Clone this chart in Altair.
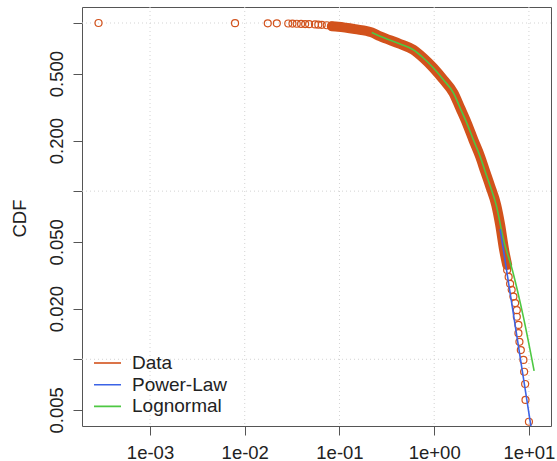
import json
import altair as alt
import pandas as pd

# ---- data ----
# empirical CCDF circles (sparse parts: head and tail)
data_x = [0.000286, 0.0079, 0.0175, 0.0218, 0.0288, 0.0319, 0.0354, 0.0393, 0.0434, 0.0478,
          0.0552, 0.0598, 0.0650, 0.0734, 0.0829, 0.0936,
          5.89, 6.11, 6.33, 6.57, 6.86, 7.15, 7.45, 7.45, 7.75, 7.75, 7.94, 8.21, 8.75, 8.90,
          9.12, 9.20, 10.0]
data_y = [1.0, 0.998, 0.996, 0.995, 0.993, 0.992, 0.990, 0.988, 0.986, 0.984,
          0.981, 0.978, 0.975, 0.970, 0.965, 0.960,
          0.0340, 0.0309, 0.0281, 0.0259, 0.0236, 0.0216, 0.0196, 0.0179, 0.0160, 0.0143, 0.0127,
          0.01135, 0.00991, 0.00843, 0.00713, 0.00573, 0.00425]

# dense part of the empirical CCDF (hundreds of overlapping circles -> solid band)
band_x = [0.0829, 0.0966, 0.146, 0.219, 0.268, 0.437, 0.602, 0.769, 0.982, 1.25, 1.60, 1.877,
          2.21, 2.59, 3.05, 3.45, 3.89, 4.51, 4.97, 5.47, 5.89]
band_y = [0.956, 0.950, 0.919, 0.879, 0.834, 0.750, 0.693, 0.619, 0.540, 0.460, 0.383, 0.313,
          0.254, 0.202, 0.161, 0.131, 0.1075, 0.0829, 0.0630, 0.0447, 0.0364]

# power-law fit
pl_x = [4.97, 10.5]
pl_y = [0.0594, 0.0040]

# lognormal fit
ln_x = [0.219, 0.268, 0.437, 0.602, 0.769, 0.982, 1.25, 1.60, 1.877, 2.21, 2.59, 3.05, 3.45,
        3.89, 4.51, 5.34, 6.81, 8.69, 11.35]
ln_y = [0.879, 0.834, 0.750, 0.693, 0.619, 0.540, 0.460, 0.383, 0.313, 0.254, 0.202, 0.161,
        0.131, 0.1075, 0.0829, 0.0527, 0.0326, 0.0181, 0.00852]

grid_x = [1e-3, 1e-2, 1e-1, 1, 10]
grid_y = [1, 0.1, 0.01]

x_ticks = [0.001, 0.01, 0.1, 1, 10]
x_tick_labels = ["1e-03", "1e-02", "1e-01", "1e+00", "1e+01"]
y_ticks = [0.005, 0.01, 0.02, 0.05, 0.1, 0.2, 0.5, 1]
y_tick_labels = ["0.005", "", "0.020", "0.050", "", "0.200", "0.500", ""]

series = ["Data", "Power-Law", "Lognormal"]
colors = ["#D2521C", "#3B63E6", "#4EC843"]

x_domain = [1.914e-4, 17.1]
y_domain = [0.00401, 1.245]

FONT = "Liberation Sans"
FS = 18.5

# ---- tables ----
pts = pd.DataFrame({"x": data_x, "y": data_y, "series": "Data"})
band = pd.DataFrame({"x": band_x, "y": band_y, "series": "Data"})
pl = pd.DataFrame({"x": pl_x, "y": pl_y, "series": "Power-Law"})
ln = pd.DataFrame({"x": ln_x, "y": ln_y, "series": "Lognormal"})
gx = pd.DataFrame({"x": grid_x})
gy = pd.DataFrame({"y": grid_y})

x_axis = alt.Axis(
    values=x_ticks,
    labelExpr=f"{json.dumps(x_tick_labels)}[indexof({json.dumps(x_ticks)}, datum.value)]",
    title=None, grid=False, domain=False, labelFlush=False, labelOverlap=False,
    labelPadding=8, tickSize=9,
)
y_axis = alt.Axis(
    values=y_ticks,
    labelExpr=f"{json.dumps(y_tick_labels)}[indexof({json.dumps(y_ticks)}, datum.value)]",
    title="CDF", grid=False, domain=False, labelFlush=False, labelOverlap=False,
    labelAngle=270, labelAlign="center", labelBaseline="bottom", labelPadding=7, tickSize=9,
    titleAngle=270, titleAlign="center", titleBaseline="middle", titleX=-63, titleY=211,
    titleFontWeight="normal", titleFontSize=FS, titleFont=FONT, titleColor="#222222",
)
xs = alt.Scale(type="log", domain=x_domain, nice=False)
ys = alt.Scale(type="log", domain=y_domain, nice=False)

X = alt.X("x:Q", scale=xs, axis=x_axis)
Y = alt.Y("y:Q", scale=ys, axis=y_axis)

color = alt.Color(
    "series:N",
    scale=alt.Scale(domain=series, range=colors),
    legend=alt.Legend(
        orient="none", legendX=11, legendY=346, title=None,
        symbolType="stroke", symbolSize=729, symbolStrokeWidth=1.6,
        labelFontSize=FS + 0.5, labelFont=FONT, labelColor="#222222",
        clipHeight=20, rowPadding=1.7, padding=0, labelOffset=10,
    ),
)

grid_v = alt.Chart(gx).mark_rule(color="#d3d3d3", strokeDash=[1, 3], strokeWidth=1).encode(x=X)
grid_h = alt.Chart(gy).mark_rule(color="#d3d3d3", strokeDash=[1, 3], strokeWidth=1).encode(y=Y)

band_layer = alt.Chart(band).mark_line(strokeWidth=10, strokeCap="round", strokeJoin="round",
                                       interpolate="monotone", clip=True).encode(x=X, y=Y, color=color)
pts_layer = alt.Chart(pts).mark_point(shape="circle", filled=False, size=49, strokeWidth=1.2,
                                      opacity=1, clip=True).encode(x=X, y=Y, color=color)
ln_layer = alt.Chart(ln).mark_line(strokeWidth=1.6, interpolate="monotone", clip=True).encode(
    x=X, y=Y, color=color)
pl_layer = alt.Chart(pl).mark_line(strokeWidth=1.6, clip=True).encode(x=X, y=Y, color=color)

chart = alt.layer(grid_v, grid_h, band_layer, pts_layer, ln_layer, pl_layer).properties(
    width=469, height=419,
    autosize=alt.AutoSizeParams(type="none"),
    padding={"left": 82, "top": 7, "right": 6, "bottom": 35},
    background="white",
).configure_view(
    stroke="#555555", strokeWidth=1,
).configure_axis(
    labelFont=FONT, labelFontSize=FS, labelColor="#222222",
    tickColor="#555555", tickWidth=1,
)

chart.save("out.html", embed_options={"renderer": "svg", "actions": False})
